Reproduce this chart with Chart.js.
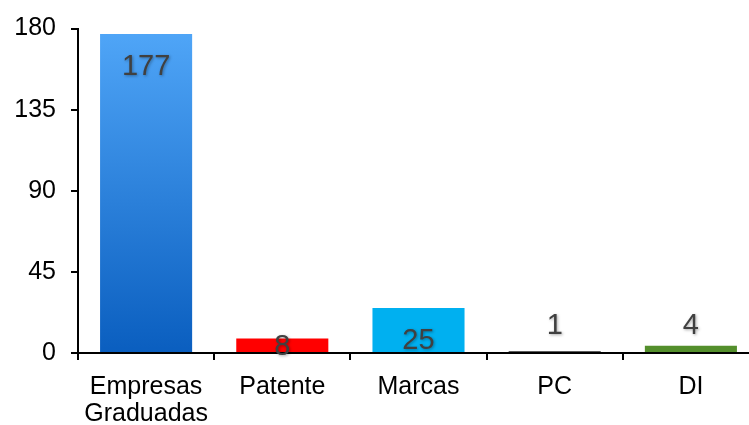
<!DOCTYPE html>
<html>
<head>
<meta charset="utf-8">
<script src="https://cdn.jsdelivr.net/npm/chart.js@4/dist/chart.umd.min.js"></script>
<style>
  html, body { margin: 0; padding: 0; background: #fff; overflow: hidden; }
  #wrap { width: 760px; height: 425px; }
</style>
</head>
<body>
<div id="wrap"><canvas id="c" width="760" height="425"></canvas></div>
<script>
// Categories and counts
const categories = [["Empresas", "Graduadas"], "Patente", "Marcas", "PC", "DI"];
const counts = [177, 8, 25, 1, 4];
const yTicks = [0, 45, 90, 135, 180];

const solidColors = [null, "#FF0000", "#00B0F0", "#262626", "#548F2C"];

function barFill(ctx) {
  const i = ctx.dataIndex;
  if (i !== 0) return solidColors[i];
  const chart = ctx.chart;
  const area = chart.chartArea;
  if (!area) return "#2F86E0";
  const y = chart.scales.y;
  const top = y.getPixelForValue(counts[0]);
  const bottom = y.getPixelForValue(0);
  const g = chart.ctx.createLinearGradient(0, top, 0, bottom);
  g.addColorStop(0, "#4FA5F7");
  g.addColorStop(1, "#0A5EBF");
  return g;
}

// Value labels: inside the top of tall bars, centred in short ones, above tiny ones
const valueLabels = {
  id: "valueLabels",
  afterDatasetsDraw(chart) {
    const ctx = chart.ctx;
    const meta = chart.getDatasetMeta(0);
    ctx.save();
    ctx.font = "29px 'Liberation Sans', Arial, sans-serif";
    ctx.fillStyle = "#404040";
    ctx.textAlign = "center";
    ctx.textBaseline = "middle";
    ctx.shadowColor = "rgba(0,0,0,0.35)";
    ctx.shadowBlur = 3;
    ctx.shadowOffsetX = 1;
    ctx.shadowOffsetY = 1;
    meta.data.forEach((bar, i) => {
      const h = bar.base - bar.y;
      let cy;
      if (h >= 40) cy = bar.y + 33;
      else if (h >= 10) cy = (bar.y + bar.base) / 2 + 2;
      else cy = bar.base - 26;
      ctx.fillText(String(counts[i]), bar.x, cy);
    });
    ctx.restore();
  }
};

const tickFont = { family: "'Liberation Sans', Arial, sans-serif", size: 25, lineHeight: 1.08 };

new Chart(document.getElementById("c"), {
  type: "bar",
  data: {
    labels: categories,
    datasets: [{
      data: counts,
      backgroundColor: barFill,
      borderWidth: 0,
      categoryPercentage: 1.0,
      barPercentage: 0.676
    }]
  },
  options: {
    responsive: false,
    animation: false,
    layout: { padding: { top: 25, right: 1, left: 0, bottom: 0 } },
    plugins: { legend: { display: false }, tooltip: { enabled: false } },
    scales: {
      x: {
        grid: { drawOnChartArea: false, color: "#000", lineWidth: 2, tickLength: 7 },
        border: { color: "#000", width: 2 },
        ticks: {
          color: "#000",
          padding: 14,
          maxRotation: 0,
          font: tickFont
        },
        afterFit(scale) { scale.height = 72; }
      },
      y: {
        min: 0,
        max: 180,
        grid: { drawOnChartArea: false, color: "#000", lineWidth: 2, tickLength: 7 },
        border: { color: "#000", width: 2 },
        afterBuildTicks(scale) { scale.ticks = yTicks.map(v => ({ value: v })); },
        ticks: {
          color: "#000",
          padding: 15,
          font: tickFont
        },
        afterFit(scale) { scale.width = 78; }
      }
    }
  },
  plugins: [valueLabels]
});
</script>
</body>
</html>
